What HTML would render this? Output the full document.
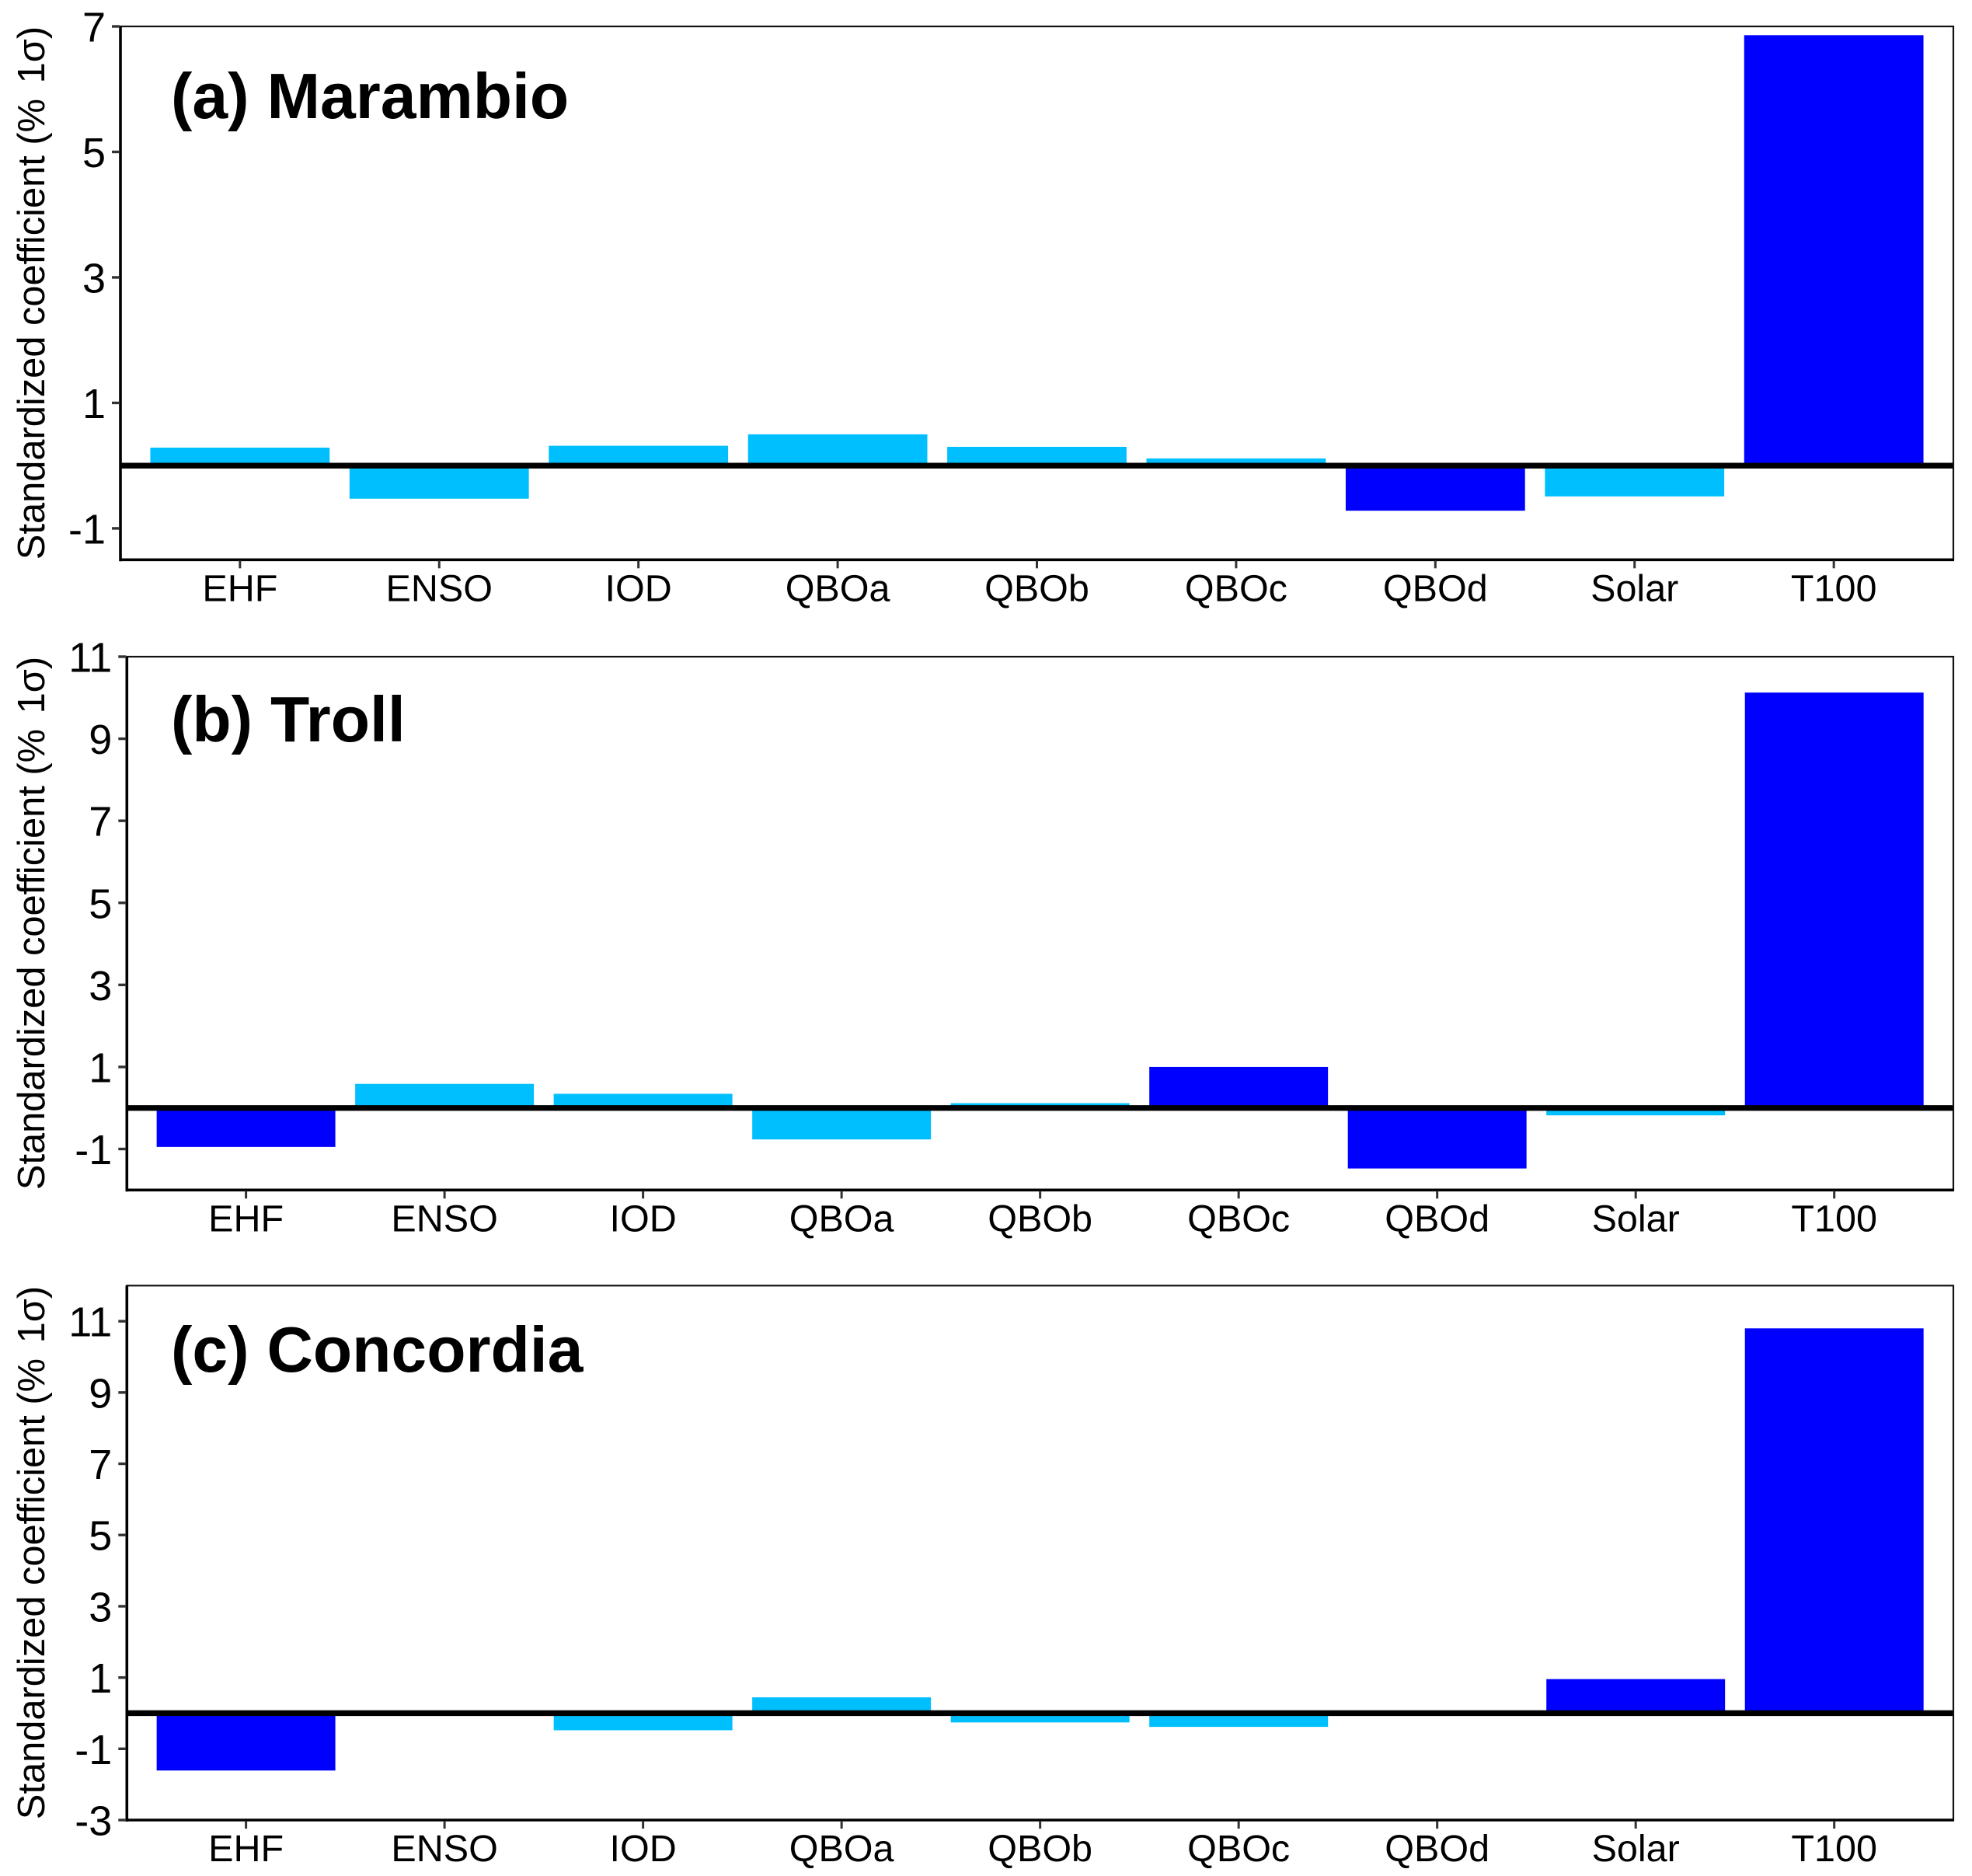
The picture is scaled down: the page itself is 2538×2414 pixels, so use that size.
<!DOCTYPE html>
<html lang="en">
<head>
<meta charset="utf-8">
<title>Standardized coefficients at Marambio, Troll and Concordia</title>
<style>
  html, body { margin: 0; padding: 0; background: #ffffff; }
  svg { display: block; }
  text { font-family: "Liberation Sans", Arial, sans-serif; fill: #000000; }
  .panel-title { font-size: 82.3px; font-weight: 700; }
  .y-title { font-size: 48.8px; text-anchor: middle; }
  .y-tick-label { font-size: 54px; text-anchor: end; }
  .x-tick-label { font-size: 48.5px; text-anchor: middle; }
</style>
</head>
<body>
<svg id="figure" xmlns="http://www.w3.org/2000/svg" width="2538" height="2414" viewBox="0 0 2538 2414">
  <rect x="0" y="0" width="2538" height="2414" fill="#ffffff"/>
  <g id="panel-a"></g>
  <g id="panel-b"></g>
  <g id="panel-c"></g>
  <text class="panel-title" x="220" y="152">(a) Marambio</text>
  <text class="panel-title" x="220" y="954">(b) Troll</text>
  <text class="panel-title" x="220" y="1765">(c) Concordia</text>
  <text class="y-title" transform="translate(57,377) rotate(-90)">Standardized coefficient (% <tspan dx="6">1σ)</tspan></text>
  <text class="y-title" transform="translate(57,1188) rotate(-90)">Standardized coefficient (% <tspan dx="6">1σ)</tspan></text>
  <text class="y-title" transform="translate(57,1998) rotate(-90)">Standardized coefficient (% <tspan dx="6">1σ)</tspan></text>
</svg>
<script>
const categories = ["EHF", "ENSO", "IOD", "QBOa", "QBOb", "QBOc", "QBOd", "Solar", "T100"];

const marambioValues = [0.287, -0.527, 0.317, 0.499, 0.30, 0.115, -0.718, -0.49, 6.86];
const marambioSignificant = [false, false, false, false, false, false, true, false, true];
const marambioTicks = [-1, 1, 3, 5, 7];

const trollValues = [-0.95, 0.587, 0.345, -0.767, 0.117, 1.0, -1.475, -0.18, 10.125];
const trollSignificant = [true, false, false, false, false, true, true, false, true];
const trollTicks = [-1, 1, 3, 5, 7, 9, 11];

const concordiaValues = [-1.61, 0, -0.48, 0.444, -0.26, -0.385, 0, 0.956, 10.8];
const concordiaSignificant = [true, false, false, false, false, false, false, true, true];
const concordiaTicks = [-3, -1, 1, 3, 5, 7, 9, 11];

const SVG_NS = "http://www.w3.org/2000/svg";

function makeNode(tag, parent) {
  const node = document.createElementNS(SVG_NS, tag);
  parent.appendChild(node);
  return node;
}

function slug(label) {
  return String(label).toLowerCase().replace(/-/g, "minus-");
}

function drawPanel(groupId, values, significant, ticks, frame, domain) {
  const group = document.getElementById(groupId);
  const bandWidth = (frame.right - frame.left) / (categories.length - 1 + 1.2);
  const xScale = function (index) {
    return frame.left + bandWidth * (0.6 + index);
  };
  const yScale = function (value) {
    return frame.bottom - (value - domain.min) / (domain.max - domain.min) * (frame.bottom - frame.top);
  };

  values.forEach(function (value, i) {
    const bar = makeNode("rect", group);
    
    
    const center = xScale(i);
    const width = bandWidth * 0.9;
    bar.setAttribute("x", center - width / 2);
    bar.setAttribute("width", width);
    bar.setAttribute("y", Math.min(yScale(value), yScale(0)));
    bar.setAttribute("height", Math.abs(yScale(value) - yScale(0)));
    bar.setAttribute("fill", significant[i] ? "#0000ff" : "#00bfff");
  });

  const zeroLine = makeNode("line", group);
  
  
  zeroLine.setAttribute("x1", frame.left);
  zeroLine.setAttribute("x2", frame.right);
  zeroLine.setAttribute("y1", yScale(0));
  zeroLine.setAttribute("y2", yScale(0));
  zeroLine.setAttribute("stroke", "#000000");
  zeroLine.setAttribute("stroke-width", "7.3");

  const border = makeNode("rect", group);
  
  
  border.setAttribute("x", frame.left);
  border.setAttribute("y", frame.top);
  border.setAttribute("width", frame.right - frame.left);
  border.setAttribute("height", frame.bottom - frame.top);
  border.setAttribute("fill", "none");
  border.setAttribute("stroke", "#111111");
  border.setAttribute("stroke-width", "2.2");

  const yAxis = makeNode("line", group);
  
  
  yAxis.setAttribute("x1", frame.left);
  yAxis.setAttribute("x2", frame.left);
  yAxis.setAttribute("y1", frame.top);
  yAxis.setAttribute("y2", frame.bottom + 2);
  yAxis.setAttribute("stroke", "#000000");
  yAxis.setAttribute("stroke-width", "3.6");

  const xAxis = makeNode("line", group);
  
  
  xAxis.setAttribute("x1", frame.left);
  xAxis.setAttribute("x2", frame.right + 1);
  xAxis.setAttribute("y1", frame.bottom);
  xAxis.setAttribute("y2", frame.bottom);
  xAxis.setAttribute("stroke", "#000000");
  xAxis.setAttribute("stroke-width", "3.6");

  ticks.forEach(function (tick) {
    const mark = makeNode("line", group);
    
    
    mark.setAttribute("x1", frame.left - 11);
    mark.setAttribute("x2", frame.left - 1);
    mark.setAttribute("y1", yScale(tick));
    mark.setAttribute("y2", yScale(tick));
    mark.setAttribute("stroke", "#333333");
    mark.setAttribute("stroke-width", "3.4");

    const label = makeNode("text", group);
    
    
    label.setAttribute("class", "y-tick-label");
    label.setAttribute("x", frame.left - 19);
    label.setAttribute("y", yScale(tick) + 19.5);
    label.textContent = String(tick);
  });

  categories.forEach(function (name, i) {
    const mark = makeNode("line", group);
    
    
    mark.setAttribute("x1", xScale(i));
    mark.setAttribute("x2", xScale(i));
    mark.setAttribute("y1", frame.bottom + 1);
    mark.setAttribute("y2", frame.bottom + 11);
    mark.setAttribute("stroke", "#333333");
    mark.setAttribute("stroke-width", "3");

    const label = makeNode("text", group);
    
    
    label.setAttribute("class", "x-tick-label");
    label.setAttribute("x", xScale(i));
    label.setAttribute("y", frame.bottom + 53);
    label.textContent = name;
  });
}

drawPanel("panel-a", marambioValues, marambioSignificant, marambioTicks,
  { left: 155, right: 2514, top: 34, bottom: 720.3 }, { min: -1.5, max: 7 });
drawPanel("panel-b", trollValues, trollSignificant, trollTicks,
  { left: 163.3, right: 2514, top: 845, bottom: 1531.3 }, { min: -2, max: 11 });
drawPanel("panel-c", concordiaValues, concordiaSignificant, concordiaTicks,
  { left: 163.3, right: 2514, top: 1654.3, bottom: 2342 }, { min: -3, max: 12 });
</script>
</body>
</html>
